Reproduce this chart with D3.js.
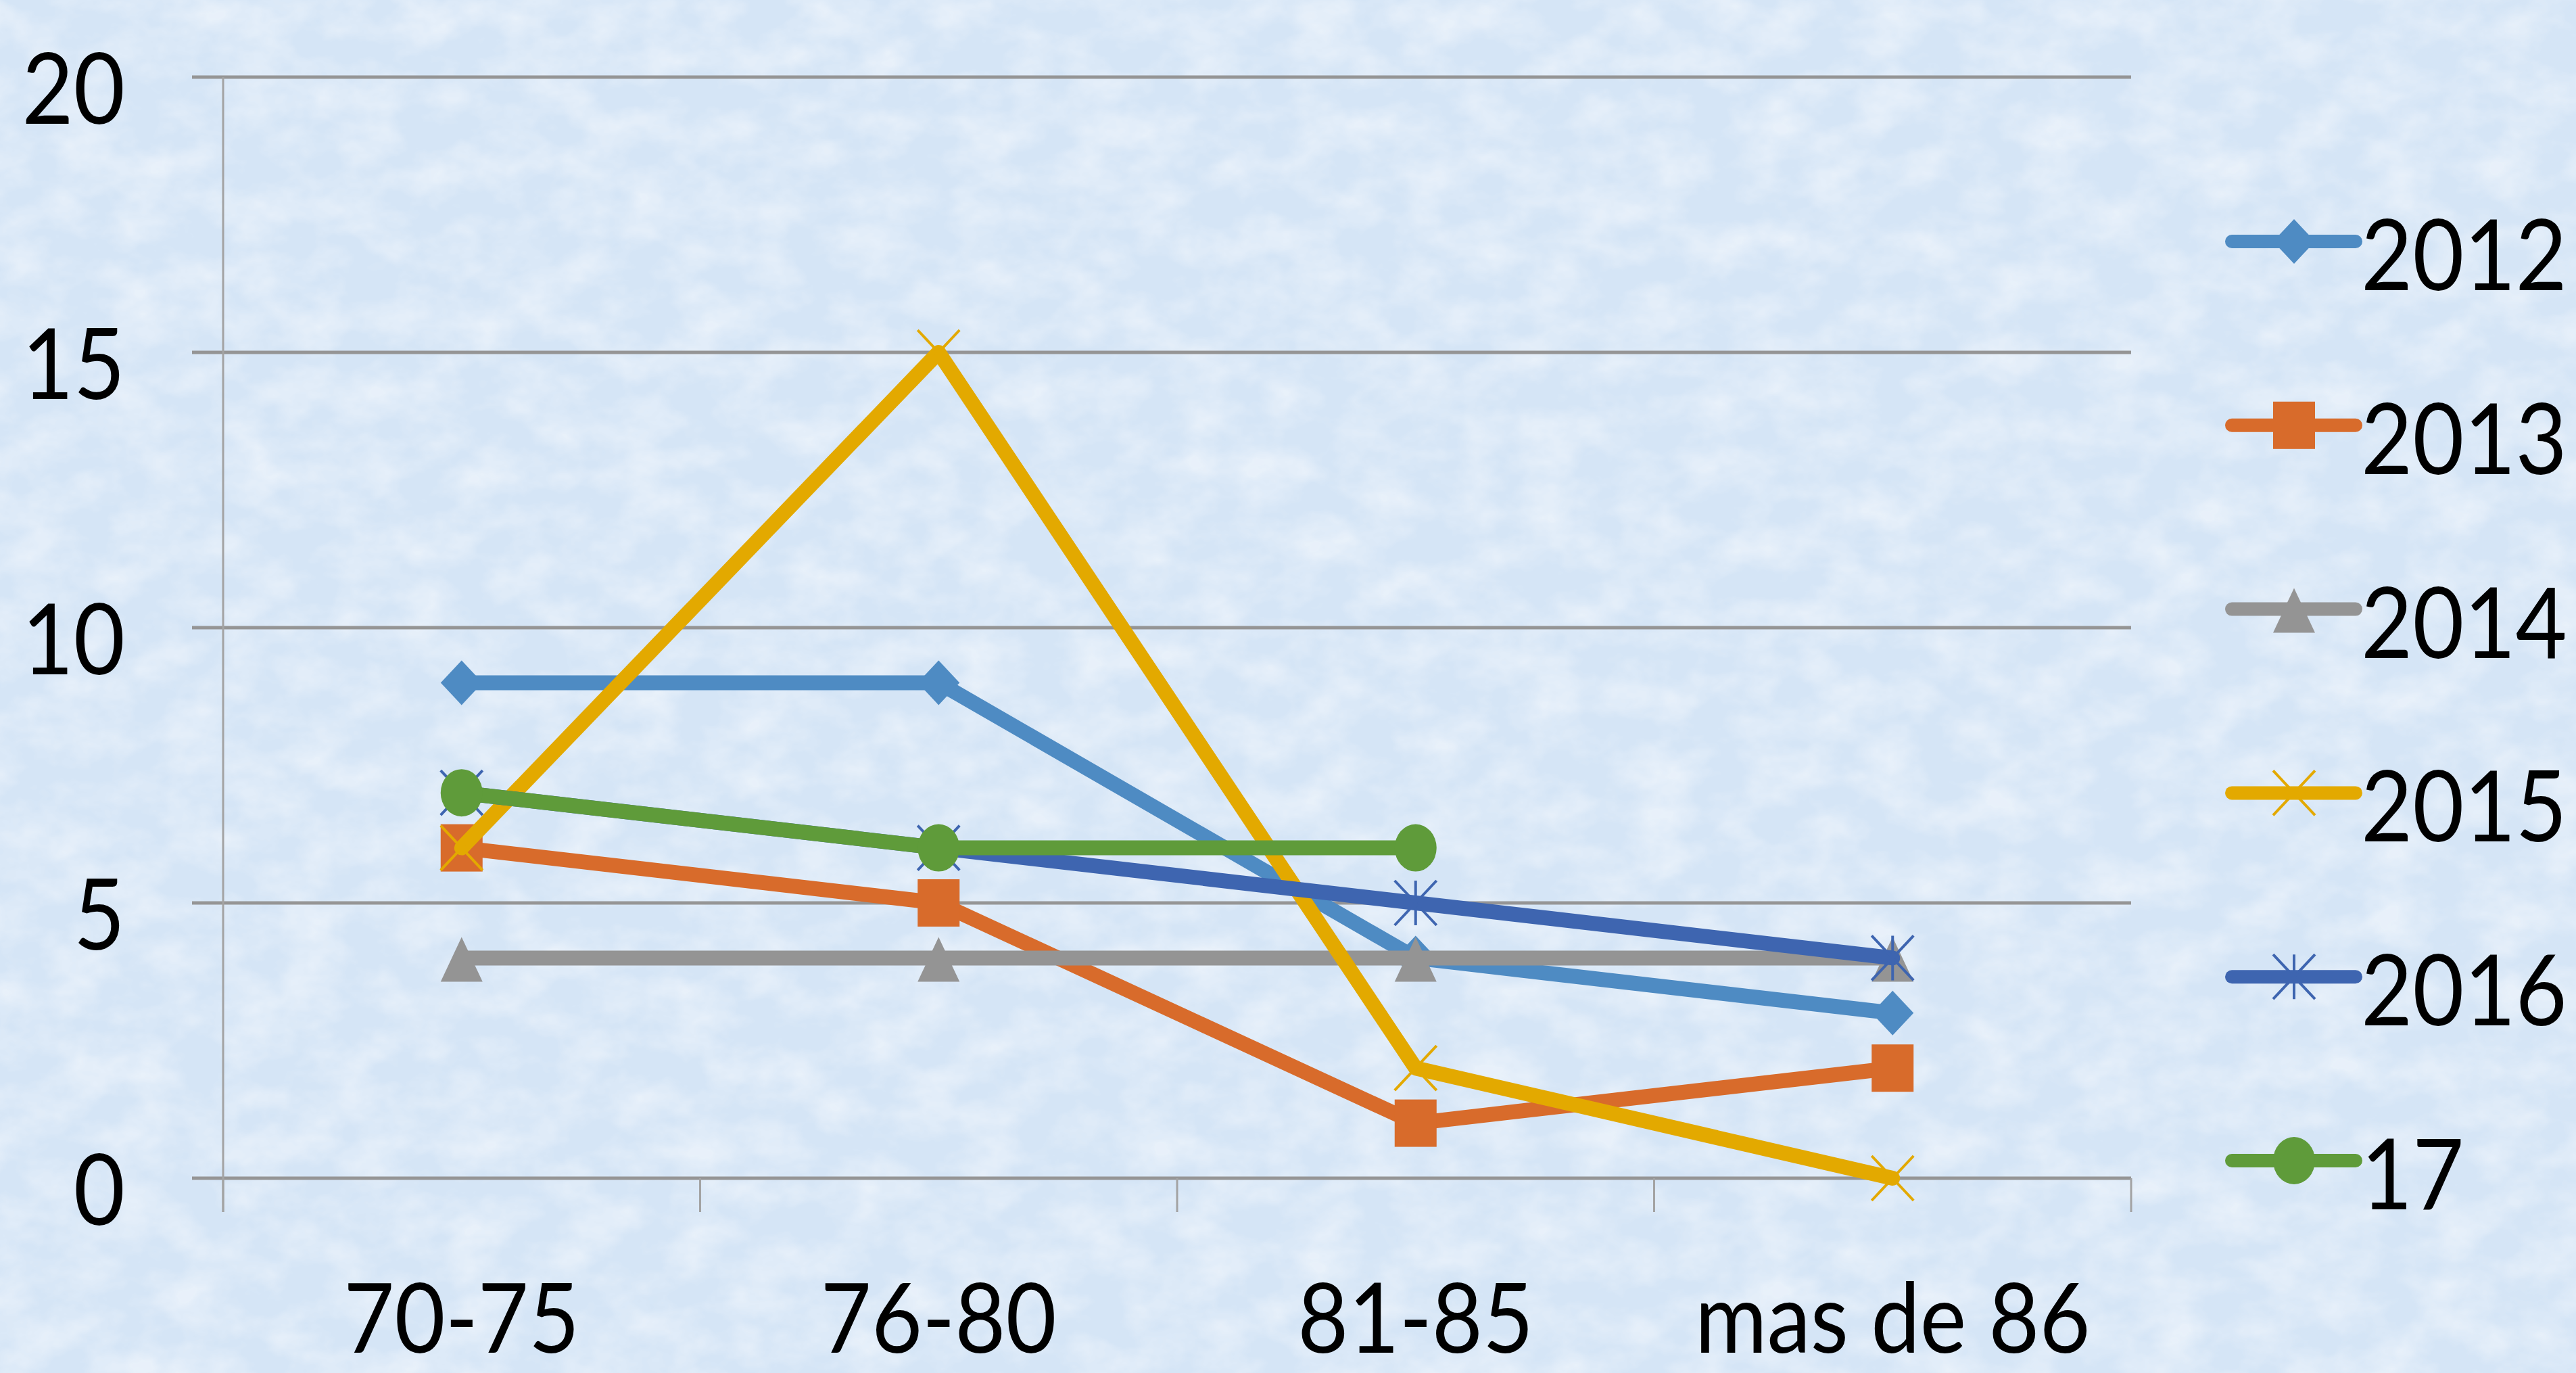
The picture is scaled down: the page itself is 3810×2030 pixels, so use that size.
<!DOCTYPE html>
<html>
<head>
<meta charset="utf-8">
<script src="https://cdn.jsdelivr.net/npm/d3@7"></script>
<style>
  body { margin: 0; background: #d8e7f5; }
  svg { display: block; }
  text { font-family: Lato, "Open Sans", sans-serif; fill: #000; }
</style>
</head>
<body>
<div id="chart"></div>
<script>
// Chart size (matches the window)
const width = 3810;
const height = 2030;

// Data
const categories = ["70-75", "76-80", "81-85", "mas de 86"];
const seriesNames = ["2012", "2013", "2014", "2015", "2016", "17"];
const values2012 = [9, 9, 4, 3];
const values2013 = [6, 5, 1, 2];
const values2014 = [4, 4, 4, 4];
const values2015 = [6, 15, 2, 0];
const values2016 = [7, 6, 5, 4];
const values17 = [7, 6, 6, null];
const yTicks = [0, 5, 10, 15, 20];

const seriesColors = ["#4e8bc3", "#d86b2b", "#949494", "#e3a900", "#3e65b0", "#5f9b3a"];
const seriesMarkers = ["diamond", "square", "triangle", "x", "star", "circle"];

const series = seriesNames.map((name, i) => ({
    name: name,
    values: [values2012, values2013, values2014, values2015, values2016, values17][i],
    color: seriesColors[i],
    marker: seriesMarkers[i]
}));

const svg = d3.select("#chart")
    .append("svg")
    .attr("width", width)
    .attr("height", height);

// Paper-like background texture
const defs = svg.append("defs");
const paper = defs.append("filter").attr("id", "paper")
    .attr("x", 0).attr("y", 0).attr("width", "100%").attr("height", "100%");
paper.append("feTurbulence")
    .attr("type", "fractalNoise")
    .attr("baseFrequency", "0.012 0.018")
    .attr("numOctaves", 4)
    .attr("seed", 7);
paper.append("feColorMatrix")
    .attr("type", "matrix")
    .attr("values", "0 0 0 0 1  0 0 0 0 1  0 0 0 0 1  0 0 0 -2.0 1.3");

svg.append("rect").attr("width", width).attr("height", height).attr("fill", "#d5e5f6");
svg.append("rect").attr("width", width).attr("height", height)
    .attr("filter", "url(#paper)").attr("opacity", 0.45);

// Scales
const x = d3.scaleBand().domain(categories).range([330, 3152]);
const y = d3.scaleLinear().domain([0, 20]).range([1742, 114]);

// Horizontal gridlines (with small outer ticks on the left)
svg.append("g")
    .selectAll("line")
    .data(yTicks)
    .enter()
    .append("line")
    .attr("x1", 284)
    .attr("x2", x.range()[1])
    .attr("y1", d => y(d))
    .attr("y2", d => y(d))
    .attr("stroke", "#959595")
    .attr("stroke-width", 5);

// Vertical axis line and category boundary ticks
const bounds = d3.range(categories.length + 1).map(i => x.range()[0] + i * x.step());
svg.append("line")
    .attr("x1", x.range()[0]).attr("x2", x.range()[0])
    .attr("y1", y(20)).attr("y2", y(0) + 50)
    .attr("stroke", "#a3a3a3").attr("stroke-width", 3);
svg.append("g")
    .selectAll("line")
    .data(bounds)
    .enter()
    .append("line")
    .attr("x1", d => d).attr("x2", d => d)
    .attr("y1", y(0)).attr("y2", y(0) + 50)
    .attr("stroke", "#a3a3a3").attr("stroke-width", 3);

// Y axis labels
const yAxis = svg.append("g")
    .attr("transform", `translate(${x.range()[0]},0)`)
    .call(d3.axisLeft(y).tickValues(yTicks).tickSize(0));
yAxis.select(".domain").remove();
yAxis.selectAll("text")
    .attr("x", null).attr("dy", null)
    .attr("transform", "translate(-145,68) scale(0.9,1)")
    .attr("text-anchor", "end")
    .style("font-size", "146px")
    .style("font-family", "Lato, 'Open Sans', sans-serif");

// X axis labels
const xAxis = svg.append("g")
    .attr("transform", `translate(0,${y(0)})`)
    .call(d3.axisBottom(x).tickSize(0));
xAxis.select(".domain").remove();
xAxis.selectAll("text")
    .attr("y", null).attr("dy", null)
    .attr("transform", "translate(0,258) scale(0.9,1)")
    .style("font-size", "144px")
    .style("font-family", "Lato, 'Open Sans', sans-serif");

// Marker shapes
function drawMarker(g, type, color) {
    if (type === "diamond") {
        g.append("path").attr("d", "M0,-33L31,0L0,33L-31,0Z").attr("fill", color);
    } else if (type === "square") {
        g.append("rect").attr("x", -31).attr("y", -35).attr("width", 62).attr("height", 70).attr("fill", color);
    } else if (type === "triangle") {
        g.append("path").attr("d", "M0,-31L31,35L-31,35Z").attr("fill", color);
    } else if (type === "circle") {
        g.append("ellipse").attr("rx", 31).attr("ry", 35).attr("fill", color);
    } else if (type === "x" || type === "star") {
        let d = "M-31,-33L31,33M31,-33L-31,33";
        if (type === "star") d += "M0,-33L0,33";
        g.append("path").attr("d", d).attr("stroke", color).attr("stroke-width", 4).attr("fill", "none");
    }
}

const line = d3.line()
    .defined(d => d.v != null)
    .x(d => x(d.c) + x.bandwidth() / 2)
    .y(d => y(d.v));

// Series lines and markers, drawn in order
series.forEach(s => {
    const pts = s.values.map((v, i) => ({ c: categories[i], v: v }));
    const g = svg.append("g");
    g.append("path")
        .datum(pts)
        .attr("d", line)
        .attr("fill", "none")
        .attr("stroke", s.color)
        .attr("stroke-width", 22)
        .attr("stroke-linejoin", "round")
        .attr("stroke-linecap", "round");
    g.selectAll(".marker")
        .data(pts.filter(d => d.v != null))
        .enter()
        .append("g")
        .attr("class", "marker")
        .attr("transform", d => `translate(${x(d.c) + x.bandwidth() / 2},${y(d.v)})`)
        .each(function () { drawMarker(d3.select(this), s.marker, s.color); });
});

// Legend
const legendRow = d3.scaleLinear().domain([0, series.length - 1]).range([357, 1716]);
const legend = svg.append("g");
series.forEach((s, i) => {
    const item = legend.append("g").attr("transform", `translate(0,${legendRow(i)})`);
    item.append("line")
        .attr("x1", 3301).attr("x2", 3484)
        .attr("stroke", s.color).attr("stroke-width", 20)
        .attr("stroke-linecap", "round");
    drawMarker(item.append("g").attr("transform", "translate(3393,0)"), s.marker, s.color);
    item.append("text")
        .attr("transform", "translate(3492,72) scale(0.9,1)")
        .style("font-size", "146px")
        .text(s.name);
});
</script>
</body>
</html>
